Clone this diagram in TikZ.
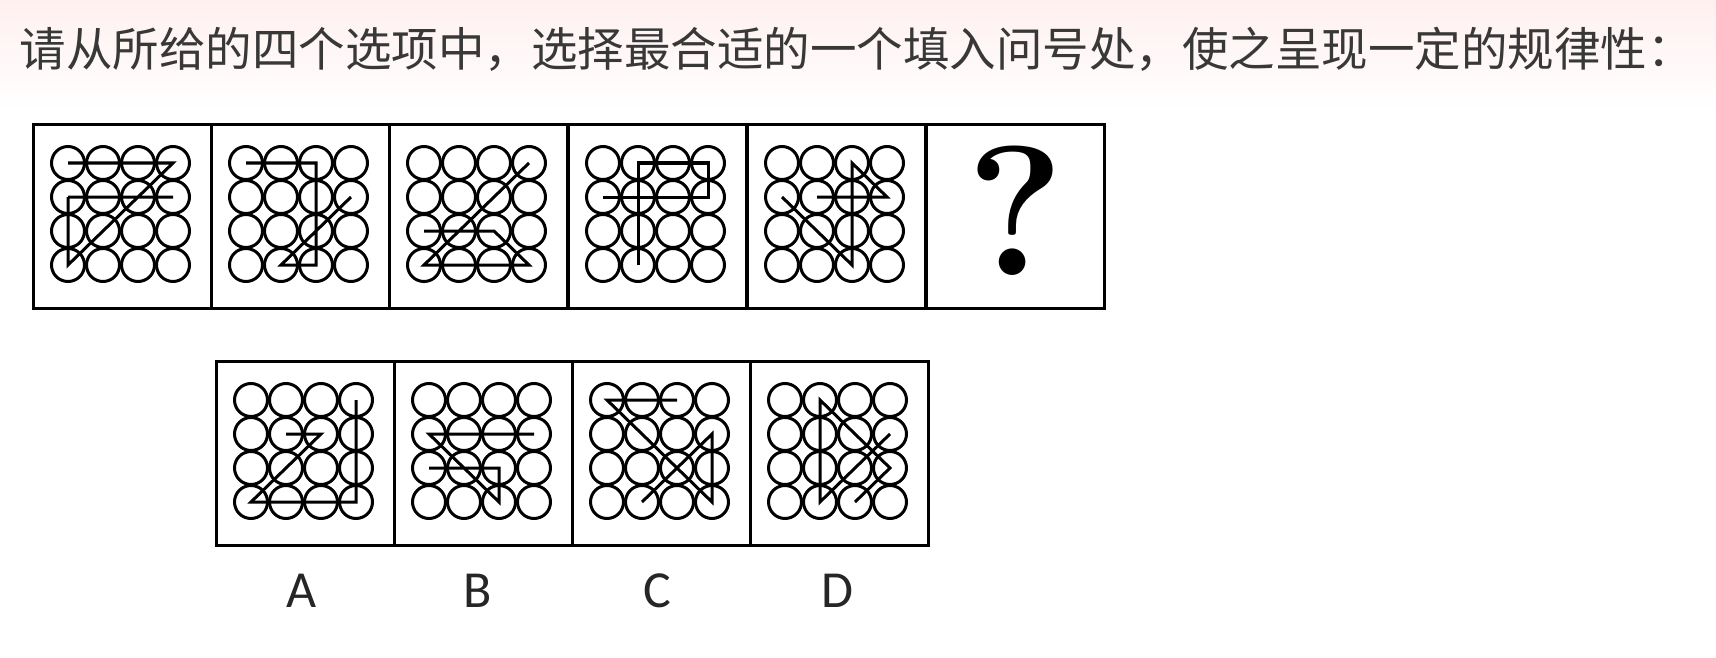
\documentclass[tikz,border=0pt]{standalone}
\usepackage{fontspec}
\newfontfamily\cjk{Noto Sans CJK SC}
\newfontfamily\lbl{Carlito}
\begin{document}
\begin{tikzpicture}[x=1pt,y=-1pt,
  panelbox/.style={draw,line width=3.2pt,minimum width=178pt,minimum height=184pt,inner sep=0pt,anchor=north west},
  ring/.style={line width=3pt},
  figline/.style={line width=3pt,line join=miter},
  optlabel/.style={font=\lbl\fontsize{52}{56}\selectfont,text=black!85}]
\useasboundingbox (0,0) rectangle (1716,658);
\shade[top color=red!6,bottom color=white] (0,0) rectangle (1716,110);
\node[anchor=west,text=black!78,font=\cjk\fontsize{46.5}{52}\selectfont] (title) at (16,49) {请从所给的四个选项中，选择最合适的一个填入问号处，使之呈现一定的规律性：};
\newcommand\figpanel[4]{%
  \node[panelbox] (#1) at (#2,#3) {};
  \begin{scope}[shift={(#1.north west)},shift={(36,40)},x=35pt,y=-34pt]
    \foreach \i in {0,...,3} \foreach \j in {0,...,3}
      \draw[ring] (\i,\j) circle[radius=16.5pt];
    \draw[figline] #4;
  \end{scope}}
\figpanel{p1}{32}{123}{(0,1)--(3,1) (0,0)--(3,0)--(0,3)--(0,1)}
\figpanel{p2}{210}{123}{(0,0)--(2,0)--(2,3)--(1,3)--(3,1)}
\figpanel{p3}{388}{123}{(3,0)--(0,3)--(3,3)--(2,2)--(0,2)}
\figpanel{p4}{567}{123}{(1,3)--(1,0)--(3,0)--(3,1)--(0,1)}
\figpanel{p5}{746}{123}{(0,1)--(2,3)--(2,0)--(3,1)--(1,1)}
\node[panelbox] (p6) at (925,123) {};
\node[font=\bfseries\fontsize{185}{185}\selectfont] (q) at ([yshift=6pt]p6.center) {?};
\figpanel{oa}{215}{360}{(3,0)--(3,3)--(0,3)--(2,1)--(1,1)}
\figpanel{ob}{393}{360}{(3,1)--(0,1)--(2,3)--(2,2)--(0,2)}
\figpanel{oc}{571}{360}{(2,0)--(0,0)--(3,3)--(3,1)--(1,3)}
\figpanel{od}{749}{360}{(2,3)--(3,2)--(1,0)--(1,3)--(3,1)}
\node[optlabel] (la) at (302,591) {A};
\node[optlabel] (lb) at (478,591) {B};
\node[optlabel] (lc) at (657,591) {C};
\node[optlabel] (ld) at (837,591) {D};
\end{tikzpicture}
\end{document}
